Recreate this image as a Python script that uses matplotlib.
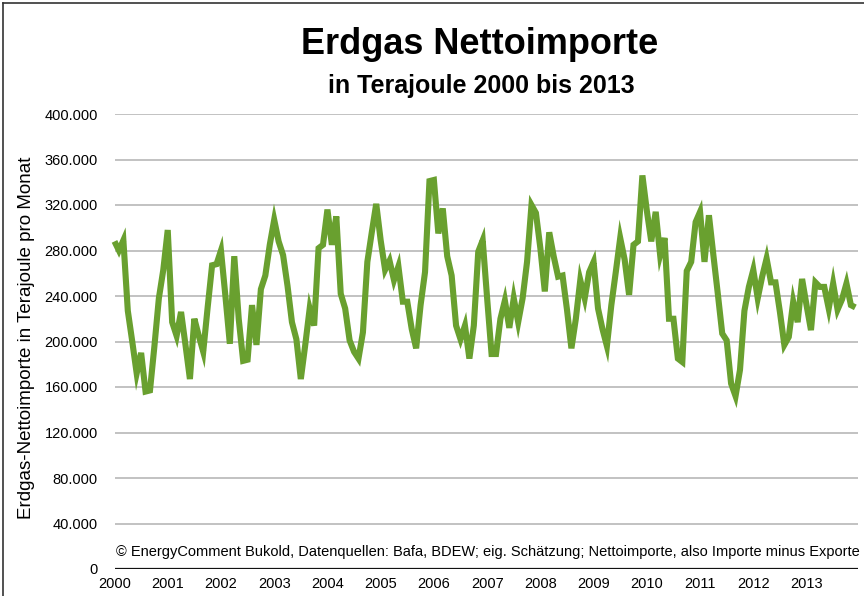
import matplotlib
matplotlib.use('Agg')
from matplotlib import pyplot as plt
from matplotlib.lines import Line2D
import numpy as np

plt.rcParams['font.family'] = ['Liberation Sans', 'DejaVu Sans']

# Nettoimporte in 1.000 TJ pro Monat, Jan..Dez
imp_2000 = [288, 280, 289, 227, 200, 172, 190, 156, 157, 196, 238, 263]
imp_2001 = [298, 217, 205, 226, 197, 167, 220, 205, 191, 230, 267, 268]
imp_2002 = [280, 240, 198, 275, 220, 183, 184, 232, 197, 246, 258, 285]
imp_2003 = [307, 288, 276, 249, 217, 202, 167, 197, 229, 214, 282, 285]
imp_2004 = [316, 285, 310, 242, 229, 201, 191, 185, 208, 270, 296, 321]
imp_2005 = [289, 263, 271, 254, 266, 235, 235, 211, 194, 232, 261, 341]
imp_2006 = [342, 295, 317, 275, 258, 214, 202, 214, 185, 214, 279, 289]
imp_2007 = [238, 189, 189, 220, 236, 212, 238, 217, 238, 270, 320, 313]
imp_2008 = [282, 244, 296, 275, 257, 258, 228, 194, 220, 254, 238, 261]
imp_2009 = [270, 229, 211, 196, 232, 261, 291, 272, 241, 285, 288, 346]
imp_2010 = [315, 288, 314, 276, 291, 220, 220, 185, 182, 262, 270, 305]
imp_2011 = [314, 270, 311, 276, 242, 207, 201, 163, 152, 175, 227, 248]
imp_2012 = [263, 238, 257, 273, 252, 252, 226, 197, 204, 235, 217, 255]
imp_2013 = [232, 210, 252, 248, 248, 229, 251, 228, 237, 251, 232, 230]

years = list(range(2000, 2014))
y_ticks = [0, 40, 80, 120, 160, 200, 240, 280, 320, 360, 400]
y_labels = ['0', '40.000', '80.000', '120.000', '160.000', '200.000',
            '240.000', '280.000', '320.000', '360.000', '400.000']

values = np.array(imp_2000 + imp_2001 + imp_2002 + imp_2003 + imp_2004 +
                  imp_2005 + imp_2006 + imp_2007 + imp_2008 + imp_2009 +
                  imp_2010 + imp_2011 + imp_2012 + imp_2013)
months = 2000 + np.arange(len(values)) / 12.0

fig = plt.figure(figsize=(8.64, 5.96), dpi=100)
ax = fig.add_axes([114.5 / 864, 1 - 569 / 596, (858 - 114.5) / 864, (569 - 114) / 596])

for v in y_ticks[1:]:
    ax.axhline(v, color='#bdbdbd', lw=1.3, zorder=1)
ax.axhline(0, color='#111111', lw=1.6, zorder=2)

ax.plot(months, values, color='#69A02F', lw=4.4, solid_joinstyle='miter',
        solid_capstyle='butt', clip_on=False, zorder=3)

ax.set_xlim(2000, 2013.967)
ax.set_ylim(0, 400)
ax.set_xticks(years)
ax.set_xticklabels([str(y) for y in years], fontsize=10.5)
ax.set_yticks(y_ticks)
ax.set_yticklabels(y_labels, fontsize=10.5)
ax.tick_params(axis='y', length=0, pad=12)
ax.tick_params(axis='x', length=0, pad=6)
for s in ax.spines.values():
    s.set_visible(False)
ax.set_facecolor('none')

fig.text(27 / 864, 1 - 338 / 596, 'Erdgas-Nettoimporte in Terajoule pro Monat',
         rotation=90, ha='center', va='center', fontsize=13.5)
fig.text(480 / 864, 1 - 45 / 596, 'Erdgas Nettoimporte', ha='center', va='center',
         fontsize=26, fontweight='bold')
fig.text(481 / 864, 1 - 86 / 596, 'in Terajoule 2000 bis 2013', ha='center', va='center',
         fontsize=18, fontweight='bold')
fig.text(488 / 864, 1 - 552 / 596, '© EnergyComment Bukold, Datenquellen: Bafa, BDEW; eig. Schätzung; '
         'Nettoimporte, also Importe minus Exporte',
         ha='center', va='center', fontsize=10.5)

# Rahmen links und oben
fig.add_artist(Line2D([3 / 864, 3 / 864], [0, 1 - 3 / 596], color='#333333', lw=1.2))
fig.add_artist(Line2D([3 / 864, 1], [1 - 3 / 596, 1 - 3 / 596], color='#333333', lw=1.2))

plt.savefig('out.png', dpi=100)
